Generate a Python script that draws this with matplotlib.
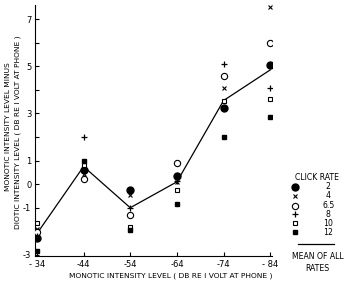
import matplotlib
matplotlib.use('Agg')
import matplotlib.pyplot as plt

# monotic intensity level (dB re 1 volt at phone)
levels = [-34, -44, -54, -64, -74, -84]

# monotic minus diotic level, one list per click rate
rate_2 = [-2.3, 0.6, -0.25, 0.35, 3.25, 5.05]
rate_4 = [-1.9, 0.45, -0.45, 0.1, 4.1, 7.5]
rate_6_5 = [-2.05, 0.2, -1.3, 0.9, 4.6, 6.0]
rate_8 = [-2.2, 2.0, -1.0, 0.15, 5.1, 4.1]
rate_10 = [-1.65, 0.8, -1.8, -0.25, 3.55, 3.6]
rate_12 = [-2.85, 1.0, -1.95, -0.85, 2.0, 2.85]
mean_all = [-2.1, 0.75, -1.0, 0.1, 3.55, 4.85]

rate_labels = ['2', '4', '6.5', '8', '10', '12']
series = [rate_2, rate_4, rate_6_5, rate_8, rate_10, rate_12]
styles = [dict(marker='o', ms=5, mfc='black', mec='black'),
          dict(marker='x', ms=2.8, mec='black', mew=0.8),
          dict(marker='o', ms=4.5, mfc='white', mec='black', mew=0.8),
          dict(marker='+', ms=4.5, mec='black', mew=0.9),
          dict(marker='s', ms=3, mfc='white', mec='black', mew=0.8),
          dict(marker='s', ms=3.2, mfc='black', mec='black')]

fs = 6.0
fig = plt.figure(figsize=(3.48, 2.82), dpi=100)
ax = fig.add_axes([0.102, 0.092, 0.680, 0.890])

ax.plot(levels, mean_all, color='black', lw=0.9, zorder=2)
for vals, st in zip(series, styles):
    ax.plot(levels, vals, ls='none', color='black', zorder=3, **st)

ax.set_xlim(-33.7, -84.4)
ax.set_ylim(-3.05, 7.6)
ax.spines['top'].set_visible(False)
ax.spines['right'].set_visible(False)
ax.set_xticks(levels)
ax.set_xticklabels(['- 34', '-44', '-54', '-64', '-74', '- 84'], fontsize=fs)
ax.set_yticks(range(-3, 8))
ax.set_yticklabels(['-3', '', '-1', '0', '1', '', '3', '', '5', '', '7'], fontsize=fs)
ax.tick_params(direction='in', length=3, width=0.8, pad=3)

fig.text(0.49, 0.022, 'MONOTIC INTENSITY LEVEL ( DB RE I VOLT AT PHONE )',
         fontsize=5.4, ha='center', va='center')
fig.text(0.022, 0.55, 'MONOTIC INTENSITY LEVEL MINUS', fontsize=5.4,
         rotation=90, ha='center', va='center')
fig.text(0.052, 0.53, 'DIOTIC INTENSITY LEVEL ( DB RE I VOLT AT PHONE )', fontsize=5.4,
         rotation=90, ha='center', va='center')

# key at lower right
fig.text(0.912, 0.372, 'CLICK RATE', fontsize=5.6, ha='center', va='center')
ys = [0.337, 0.305, 0.270, 0.241, 0.209, 0.177]
for y, lab, st in zip(ys, rate_labels, styles):
    fig.lines.append(plt.Line2D([0.848], [y], transform=fig.transFigure, ls='none',
                                color='black', **st))
    fig.text(0.943, y, lab, fontsize=5.6, ha='center', va='center')
fig.lines.append(plt.Line2D([0.856, 0.96], [0.135, 0.135], transform=fig.transFigure,
                            color='black', lw=0.9))
fig.text(0.912, 0.068, 'MEAN OF ALL\nRATES', fontsize=5.6, ha='center', va='center',
         linespacing=1.4)

plt.savefig('out.png', dpi=100)
